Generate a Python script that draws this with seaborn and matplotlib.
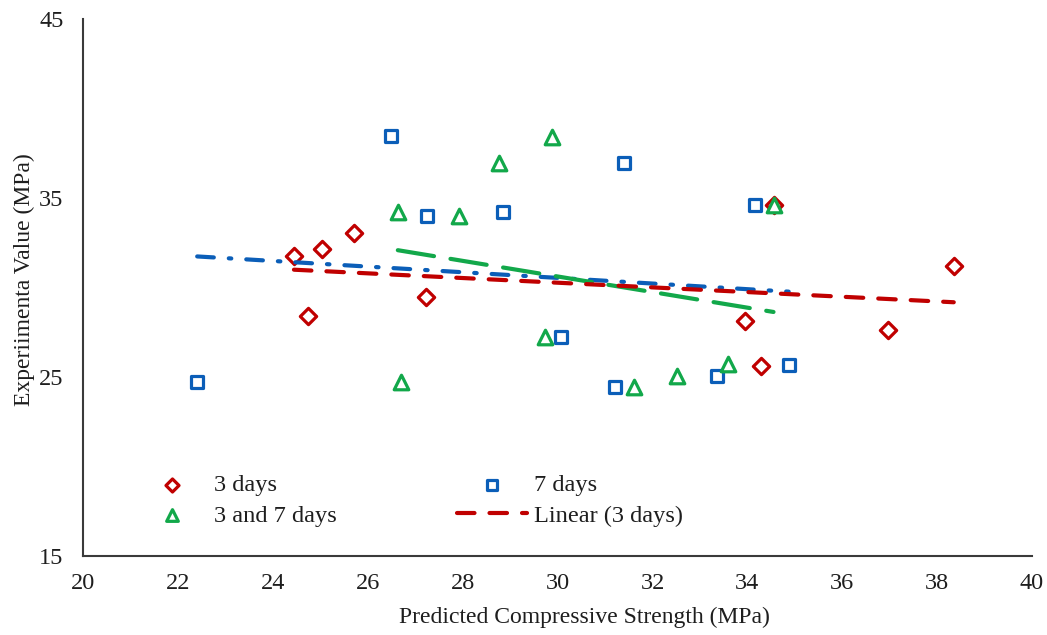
import numpy as np
import pandas as pd
import matplotlib
matplotlib.use("Agg")
import matplotlib.pyplot as plt
import seaborn as sns

# ---- data ----
x_3d = [24.44, 24.74, 25.03, 25.71, 27.22, 33.95, 34.29, 34.56, 36.96, 38.35]
y_3d = [31.75, 28.40, 32.14, 33.04, 29.46, 28.12, 25.60, 34.60, 27.60, 31.19]

x_7d = [22.40, 26.49, 27.25, 28.85, 30.07, 31.21, 31.40, 33.36, 34.15, 34.87]
y_7d = [24.71, 38.46, 33.99, 34.21, 27.22, 24.43, 36.95, 25.04, 34.60, 25.66]

x_37d = [26.63, 26.69, 27.92, 28.76, 29.73, 29.88, 31.60, 32.52, 33.60, 34.55]
y_37d = [34.20, 24.71, 33.99, 36.95, 27.22, 38.40, 24.43, 25.04, 25.71, 34.60]

x_ticks = [20, 22, 24, 26, 28, 30, 32, 34, 36, 38, 40]
y_ticks = [15, 25, 35, 45]

RED = "#C00000"
BLUE = "#0B5EB8"
GREEN = "#12A84A"
TXT = "#1e1e1e"

sns.set_theme(style="white")
plt.rcParams["font.family"] = ["Liberation Serif", "DejaVu Serif"]
plt.rcParams["text.color"] = TXT
plt.rcParams["axes.labelcolor"] = TXT

fig = plt.figure(figsize=(10.47, 6.35), dpi=100)
ax = fig.add_axes([0.0796, 0.1249, 0.9061, 0.8452])

d3 = pd.DataFrame({"x": x_3d, "y": y_3d})
d7 = pd.DataFrame({"x": x_7d, "y": y_7d})
d37 = pd.DataFrame({"x": x_37d, "y": y_37d})

mew = 2.3
sns.scatterplot(data=d3, x="x", y="y", marker="D", s=8.3**2, facecolor="white",
                edgecolor=RED, linewidth=mew, ax=ax, label="3 days", zorder=3)
sns.scatterplot(data=d7, x="x", y="y", marker="s", s=8.8**2, facecolor="white",
                edgecolor=BLUE, linewidth=mew, ax=ax, label="7 days", zorder=3)
sns.scatterplot(data=d37, x="x", y="y", marker="^", s=10.5**2, facecolor="white",
                edgecolor=GREEN, linewidth=mew, ax=ax, label="3 and 7 days", zorder=3)

lw = 3.0
sns.regplot(data=d7, x="x", y="y", scatter=False, ci=None, ax=ax,
            line_kws=dict(color=BLUE, lw=lw, linestyle=(0, (4.0, 3.6, 0.6, 3.6)),
                          dash_capstyle="round", zorder=4))
sns.regplot(data=d37, x="x", y="y", scatter=False, ci=None, ax=ax,
            line_kws=dict(color=GREEN, lw=lw, linestyle=(0, (8.8, 4.0)),
                          dash_capstyle="round", zorder=4))
sns.regplot(data=d3, x="x", y="y", scatter=False, ci=None, ax=ax, label="Linear (3 days)",
            line_kws=dict(color=RED, lw=lw, linestyle=(0, (4.2, 3.6)),
                          dash_capstyle="round", zorder=4))

ax.set_xlim(20, 40)
ax.set_ylim(15, 45)
ax.set_xticks(x_ticks)
ax.set_yticks(y_ticks)
ax.tick_params(axis="both", which="major", direction="out", length=6.8, width=1.3,
               labelsize=17.5, color="#3a3a3a", labelcolor=TXT)
ax.tick_params(axis="x", pad=5.5)
ax.tick_params(axis="y", pad=7.5)
for side in ["top", "right"]:
    ax.spines[side].set_visible(False)
for side in ["left", "bottom"]:
    ax.spines[side].set_color("#3a3a3a")
    ax.spines[side].set_linewidth(1.5)

ax.set_xlabel("Predicted Compressive Strength (MPa)", fontsize=17)
ax.set_ylabel("Experiimenta Value (MPa)", fontsize=17)
ax.xaxis.set_label_coords(0.528, -0.095)
ax.yaxis.set_label_coords(-0.051, 0.515)

handles, labels = ax.get_legend_handles_labels()
order = ["3 days", "3 and 7 days", "7 days", "Linear (3 days)"]
hmap = dict(zip(labels, handles))
ax.legend([hmap[k] for k in order], order, ncol=2, frameon=False,
          loc="center left", bbox_to_anchor=(0.0566, 0.103), borderpad=0,
          borderaxespad=0, fontsize=17.6, handlelength=2.9, handletextpad=0.25,
          columnspacing=4.9, labelspacing=0.33, markerscale=0.8)

fig.savefig("out.png", dpi=100)
